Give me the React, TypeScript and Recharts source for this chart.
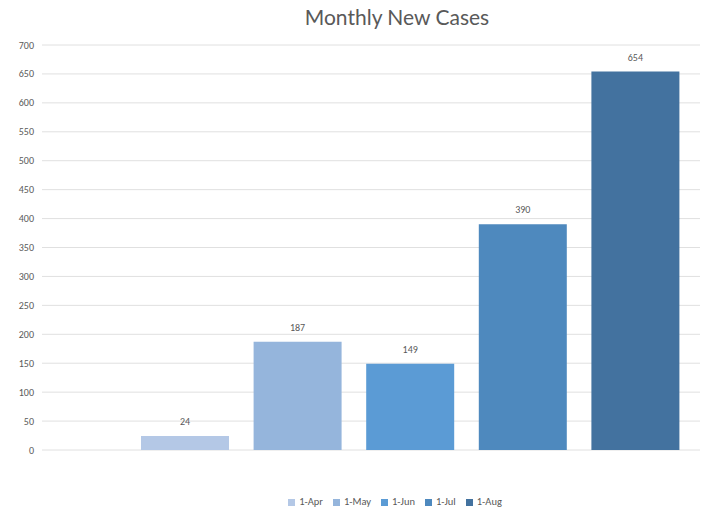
import React from 'react';
import { BarChart, Bar, XAxis, YAxis, CartesianGrid, Legend, LabelList } from 'recharts';

const months = ['1-Apr', '1-May', '1-Jun', '1-Jul', '1-Aug'];
const cases = [24, 187, 149, 390, 654];
const colors = ['#b4c8e6', '#95b5dc', '#5b9bd5', '#4e89be', '#43729f'];
const yTicks = [0, 50, 100, 150, 200, 250, 300, 350, 400, 450, 500, 550, 600, 650, 700];

const data = months.map((m, i) => {
  const row: Record<string, string | number> = { month: m };
  row[m] = cases[i];
  return row;
});

export default function App() {
  return (
    <div style={{ position: 'absolute', left: 0, top: 0, width: 716, height: 512, background: '#fff', fontFamily: 'Carlito, Lato, "Open Sans", sans-serif' }}>
      <div style={{ position: 'absolute', top: 4, left: 297, width: 200, textAlign: 'center', fontSize: 21, color: '#595959', fontFamily: 'Lato, "Open Sans", sans-serif' }}>
        Monthly New Cases
      </div>
      <BarChart width={716} height={512} data={data} margin={{ top: 45, right: 16, bottom: 0, left: 0 }} barSize={88}>
        <CartesianGrid vertical={false} stroke="#e0e0e0" />
        <XAxis dataKey="month" tick={false} axisLine={false} tickLine={false} height={45} padding={{ left: 87, right: 8 }} />
        <YAxis domain={[0, 700]} ticks={yTicks} width={42} axisLine={false} tickLine={false} interval={0}
          tick={{ fontSize: 10, fill: '#595959' }} />
        <Legend verticalAlign="bottom" iconType="square" iconSize={7} itemSorter={null as any}
          wrapperStyle={{ fontSize: 10.5, color: '#595959', paddingBottom: 4, paddingLeft: 100, boxSizing: 'border-box' }}
          formatter={(v) => <span style={{ color: '#595959' }}>{v}</span>} />
        {months.map((m, i) => (
          <Bar key={m} dataKey={m} stackId="a" fill={colors[i]} isAnimationActive={false}>
            <LabelList dataKey={m} position="top" offset={11} style={{ fontSize: 10, fill: '#595959' }} />
          </Bar>
        ))}
      </BarChart>
    </div>
  );
}
